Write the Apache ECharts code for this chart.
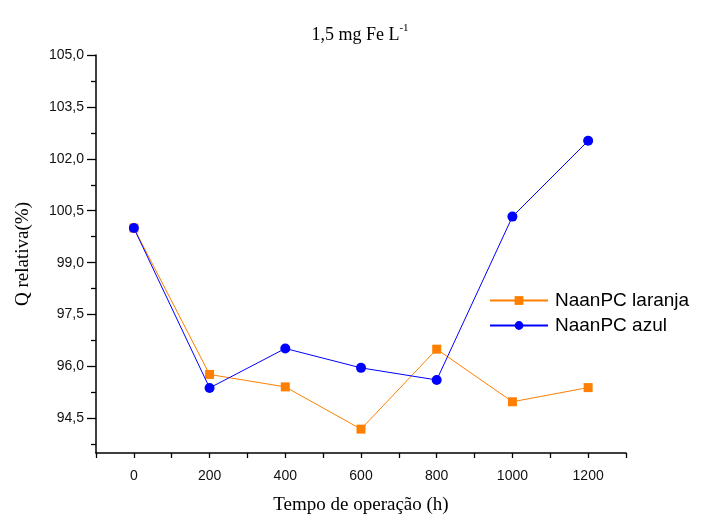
<!DOCTYPE html>
<html>
<head>
<meta charset="utf-8">
<script src="https://cdn.jsdelivr.net/npm/echarts@6/dist/echarts.min.js"></script>
<style>html,body{margin:0;padding:0;background:#fff;}#c{width:720px;height:520px;}</style>
</head>
<body>
<div id="c"></div>
<script>
var hours = [0, 200, 400, 600, 800, 1000, 1200];
var laranja = [100.0, 95.77, 95.41, 94.19, 96.5, 94.98, 95.39];
var azul = [100.0, 95.38, 96.52, 95.96, 95.61, 100.33, 102.52];
var yMajorTicks = [94.5, 96.0, 97.5, 99.0, 100.5, 102.0, 103.5, 105.0];
var yMinorTicks = [93.75, 95.25, 96.75, 98.25, 99.75, 101.25, 102.75, 104.25];
var xLabels = [0, 200, 400, 600, 800, 1000, 1200];

function pairs(xs, ys){ return xs.map(function(x,i){ return [x, ys[i]]; }); }

var chart = echarts.init(document.getElementById('c'), null, {renderer:'canvas'});
var axisCol = '#000';
chart.setOption({
  animation: false,
  backgroundColor: '#fff',
  title: {
    text: '{m|1,5 mg Fe L}{s|-1}',
    left: 'center', top: 18,
    textStyle: {
      fontWeight: 'normal',
      rich: {
        m: {fontFamily: 'Liberation Serif', fontSize: 18, fontWeight: 'normal', color: '#000', verticalAlign: 'bottom'},
        s: {fontFamily: 'Liberation Serif', fontSize: 11, fontWeight: 'normal', color: '#000', verticalAlign: 'top', padding: [0,0,10,0]}
      }
    }
  },
  legend: {
    left: 484, top: 286, orient: 'vertical',
    itemWidth: 58, itemHeight: 11, itemGap: 6,
    textStyle: {fontFamily: 'Liberation Sans', fontSize: 19, color: '#000', padding: [0,0,0,2]},
    data: ['NaanPC laranja', 'NaanPC azul']
  },
  grid: {left: 96, right: 94, top: 55, bottom: 63, containLabel: false},
  xAxis: {
    type: 'value', min: -100, max: 1300, interval: 100,
    name: 'Tempo de operação (h)', nameLocation: 'middle', nameGap: 43,
    nameTextStyle: {fontFamily: 'Liberation Serif', fontSize: 19, color: '#000'},
    axisLine: {show: true, onZero: false, lineStyle: {color: axisCol, width: 1.5}},
    axisTick: {show: true, inside: false, length: 5, lineStyle: {color: axisCol, width: 1.3}},
    axisLabel: {
      fontFamily: 'Liberation Sans', fontSize: 14, color: '#111', margin: 16,
      showMinLabel: true, showMaxLabel: true,
      formatter: function(v){ return (xLabels.indexOf(v) >= 0) ? String(v) : ''; }
    },
    splitLine: {show: false}
  },
  yAxis: [{
    type: 'value', min: 93.5, max: 105,
    name: 'Q relativa(%)', nameLocation: 'middle', nameGap: 63,
    nameTextStyle: {fontFamily: 'Liberation Serif', fontSize: 19, color: '#000'},
    axisLine: {show: true, onZero: false, lineStyle: {color: axisCol, width: 1.5}},
    axisTick: {show: true, inside: false, length: 9, customValues: yMajorTicks, lineStyle: {color: axisCol, width: 1.3}},
    axisLabel: {
      fontFamily: 'Liberation Sans', fontSize: 14, color: '#111', margin: 12,
      customValues: yMajorTicks,
      formatter: function(v){ return v.toFixed(1).replace('.', ','); }
    },
    splitLine: {show: false}
  }, {
    type: 'value', min: 93.5, max: 105, position: 'left', offset: 0,
    axisLine: {show: false, onZero: false},
    axisTick: {show: true, inside: false, length: 5, customValues: yMinorTicks, lineStyle: {color: axisCol, width: 1.3}},
    axisLabel: {show: false},
    splitLine: {show: false}
  }],
  series: [{
    name: 'NaanPC laranja', type: 'line',
    data: pairs(hours, laranja),
    symbol: 'rect', symbolSize: 9,
    itemStyle: {color: '#FF8000'},
    lineStyle: {color: '#FF8000', width: 1},
    z: 2
  }, {
    name: 'NaanPC azul', type: 'line',
    data: pairs(hours, azul),
    symbol: 'circle', symbolSize: 10,
    itemStyle: {color: '#0000FF'},
    lineStyle: {color: '#0000FF', width: 1},
    z: 3
  }]
});
</script>
</body>
</html>
